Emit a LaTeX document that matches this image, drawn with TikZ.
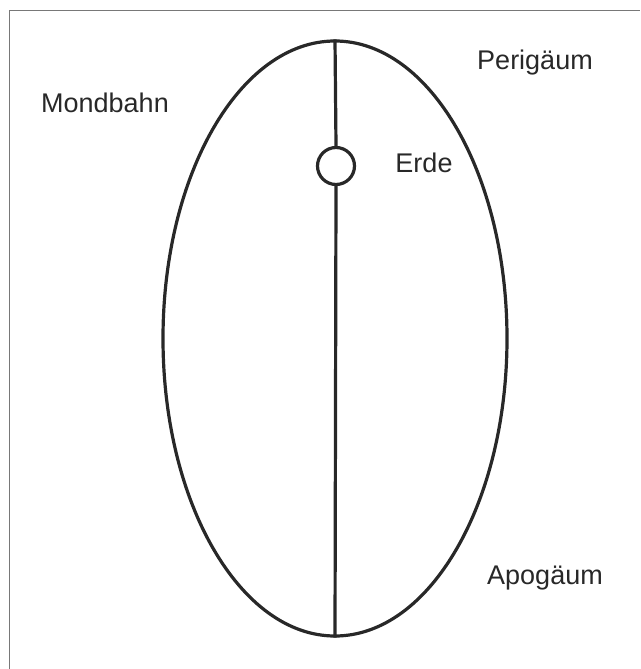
\documentclass[tikz,border=0pt]{standalone}
\usepackage{fontspec}
\setmainfont{Liberation Sans}
\usetikzlibrary{shapes.geometric}
\definecolor{linie}{RGB}{40,40,40}
\definecolor{rahmen}{RGB}{120,120,120}
\begin{document}
\begin{tikzpicture}[x=1pt, y=-1pt,
			bahn/.style={draw=linie, ellipse, line width=3.2pt, minimum width=344pt, minimum height=595pt, inner sep=0pt},
			planet/.style={draw=linie, circle, line width=3.2pt, minimum size=37pt, inner sep=0pt},
			achse/.style={draw=linie, line width=3.2pt},
			beschriftung/.style={text=linie, font=\fontsize{27}{32}\selectfont, inner sep=0pt}]
			\useasboundingbox (0,0) rectangle (640,669); % Bildbereich
			% Rahmen
			\draw[rahmen, line width=1pt] (9,669) -- (9,11) -- (640,11);
			% Bahn und Erde
			\node[bahn] (mondbahn) at (335,338.5) {};
			\node[planet] (erde) at (336,166) {};
			\draw[achse] (mondbahn.north) -- (erde.north);
			\draw[achse] (erde.south) -- (mondbahn.south);
			% Beschriftung
			\node[beschriftung] (lmondbahn) at (105,103) {Mondbahn};
			\node[beschriftung] (lperigaeum) at (535,63) {Perigäum};
			\node[beschriftung] (lerde) at (424,163) {Erde};
			\node[beschriftung] (lapogaeum) at (545,578) {Apogäum};
		\end{tikzpicture}
\end{document}
